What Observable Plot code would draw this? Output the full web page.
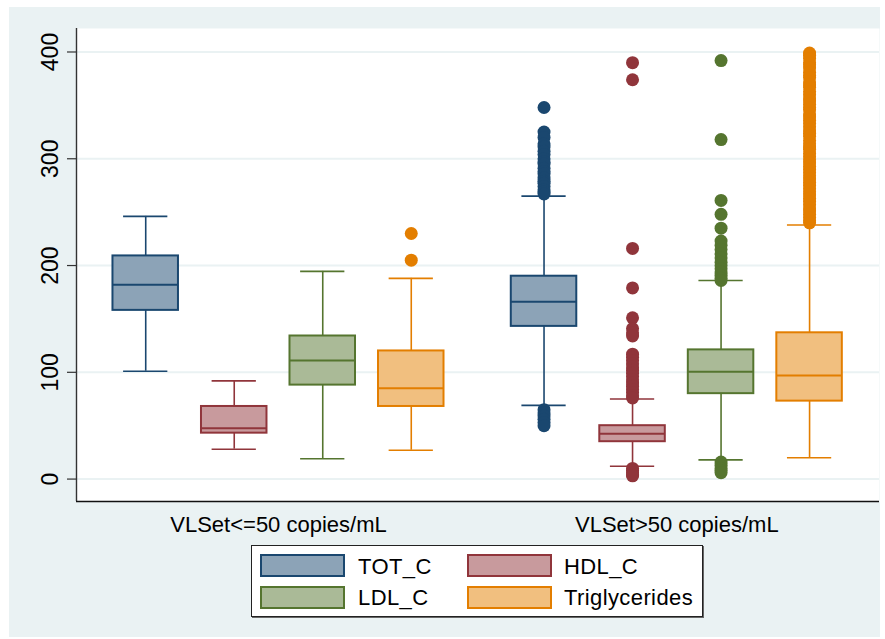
<!DOCTYPE html>
<html>
<head>
<meta charset="utf-8">
<script src="https://cdn.jsdelivr.net/npm/d3@7"></script>
<script src="https://cdn.jsdelivr.net/npm/@observablehq/plot@0.6"></script>
<style>
  body { margin: 0; background: #ffffff; font-family: "Liberation Sans", Arial, sans-serif; }
  #bg { position: absolute; left: 9px; top: 7px; width: 871px; height: 630px; background: #eaf2f3; }
  #chart { position: absolute; left: 0; top: 0; }
  #legend { position: absolute; left: 251px; top: 545px; width: 452px; height: 72px; box-sizing: border-box;
            background: #ffffff; border: 1px solid #222; box-shadow: 1px 1px 0 #666; }
  .sw { position: absolute; width: 85px; height: 23px; box-sizing: border-box; border: 2px solid; }
  .lb { position: absolute; font-size: 22px; line-height: 22px; letter-spacing: 0.4px; color: #000; white-space: nowrap; }
</style>
</head>
<body>
<div id="bg"></div>
<div id="chart"></div>
<div id="legend"></div>
<script>
// ---- data ----
const groups = ["VLSet<=50 copies/mL", "VLSet>50 copies/mL"];
const series = ["TOT_C", "HDL_C", "LDL_C", "Triglycerides"];
// per group, in series order
const lowerWhisker = [[101, 28, 19, 27], [69, 12, 18, 20]];
const q1 =           [[158, 43, 88, 68], [143, 35, 80, 73]];
const median =       [[182, 47.5, 111, 85], [166, 42.5, 100.5, 97]];
const q3 =           [[209, 68, 134, 120], [190, 50, 121, 137]];
const upperWhisker = [[246, 92, 194.5, 188], [265, 75, 186, 238]];
// outside values, per group
const outTOT = [[], [348, 325, 320, 314, 311, 307, 304, 300, 297, 295, 291, 288, 286, 282, 279, 277, 274, 271, 269, 267,
                     65, 62, 59, 56, 53, 50]];
const outHDL = [[], [390, 374, 216, 179, 151, 141, 137, 134, 117, 114, 111, 108, 105, 102, 99, 96, 93, 90, 87, 84, 81, 78, 76,
                     10, 8, 6, 4, 3]];
const outLDL = [[], [392, 318, 261, 248, 235, 223, 219, 215, 211, 207, 203, 200, 197, 194, 191, 188, 186,
                     16, 13, 10, 8, 6]];
const outTRI = [[230, 205], [399, 397, 394, 390, 388, 385, 381, 378, 376, 372, 369, 367, 363, 360, 357, 354, 351, 348, 346,
                     342, 339, 336, 333, 330, 327, 324, 321, 317, 314, 311, 309, 305, 302, 299, 296, 293, 290, 287, 284,
                     281, 278, 275, 272, 269, 266, 263, 260, 257, 254, 251, 248, 245, 242, 240]];
const yTicks = [0, 100, 200, 300, 400];
const lineColors = ["#1a476f", "#90353b", "#55752f", "#e37e00"];
const fillColors = ["#8ca3b7", "#c89a9d", "#aaba97", "#f1bf7f"];

// ---- build tables ----
const groupGap = 4.5;        // slot offset of second group
const halfBox = 0.37, halfCap = 0.25;
const boxes = groups.flatMap((g, gi) => series.map((s, si) => ({
  group: g, series: s, pos: si + groupGap * gi,
  lo: lowerWhisker[gi][si], q1: q1[gi][si], med: median[gi][si], q3: q3[gi][si], hi: upperWhisker[gi][si],
  line: lineColors[si], fill: fillColors[si]
})));
const outs = [outTOT, outHDL, outLDL, outTRI];
const dots = groups.flatMap((g, gi) => series.flatMap((s, si) =>
  outs[si][gi].map(v => ({pos: si + groupGap * gi, value: v, line: lineColors[si]}))));
const groupCenters = groups.map((g, gi) => 1.5 + groupGap * gi);

const xDomain = [-0.782, 8.29];
const yDomain = [-21, 422];

const plot = Plot.plot({
  width: 885, height: 540,
  marginLeft: 76, marginRight: 6, marginTop: 28, marginBottom: 39,
  style: {background: "transparent", fontFamily: "'Liberation Sans', Arial, sans-serif", color: "#000"},
  x: {type: "linear", domain: xDomain, axis: null, label: null},
  y: {domain: yDomain, axis: null, label: null},
  color: {type: "identity"},
  marks: [
    Plot.frame({fill: "#ffffff", stroke: "none"}),
    Plot.gridY(yTicks, {stroke: "#eaf2f3", strokeOpacity: 1, strokeWidth: 2}),
    // whiskers
    Plot.ruleX(boxes, {x: "pos", y1: "q3", y2: "hi", stroke: "line", strokeWidth: 1.6}),
    Plot.ruleX(boxes, {x: "pos", y1: "lo", y2: "q1", stroke: "line", strokeWidth: 1.6}),
    Plot.ruleY(boxes, {y: "hi", x1: d => d.pos - halfCap, x2: d => d.pos + halfCap, stroke: "line", strokeWidth: 1.6}),
    Plot.ruleY(boxes, {y: "lo", x1: d => d.pos - halfCap, x2: d => d.pos + halfCap, stroke: "line", strokeWidth: 1.6}),
    // boxes
    Plot.rect(boxes, {x1: d => d.pos - halfBox, x2: d => d.pos + halfBox, y1: "q1", y2: "q3",
                      fill: "fill", stroke: "line", strokeWidth: 2}),
    Plot.ruleY(boxes, {y: "med", x1: d => d.pos - halfBox, x2: d => d.pos + halfBox, stroke: "line", strokeWidth: 2}),
    // outside values
    Plot.dot(dots, {x: "pos", y: "value", r: 6.5, fill: "line", stroke: "none"}),
    // axes
    Plot.ruleX([xDomain[0]], {stroke: "#333", strokeWidth: 1.4}),
    Plot.ruleY([yDomain[0]], {stroke: "#111", strokeWidth: 1.4}),
    Plot.axisY({ticks: yTicks, tickSize: 9, tickPadding: 10, tickRotate: -90, textAnchor: "middle",
                lineAnchor: "bottom", fontSize: 23, letterSpacing: "0.5px", stroke: "#333", strokeWidth: 1.2, label: null}),
    Plot.axisX({ticks: groupCenters, tickFormat: (d, i) => groups[i], tickSize: 0, tickPadding: 15,
                fontSize: 22, letterSpacing: "0.4px", label: null})
  ]
});
document.getElementById("chart").appendChild(plot);

// legend
const legend = document.getElementById("legend");
series.forEach((s, i) => {
  const col = i % 2, row = Math.floor(i / 2);
  const sw = document.createElement("div");
  sw.className = "sw";
  sw.style.left = (8 + col * 207) + "px";
  sw.style.top = (8 + row * 32) + "px";
  sw.style.background = fillColors[i];
  sw.style.borderColor = lineColors[i];
  legend.appendChild(sw);
  const lb = document.createElement("div");
  lb.className = "lb";
  lb.style.left = (106 + col * 206) + "px";
  lb.style.top = (10 + row * 31) + "px";
  lb.textContent = s;
  legend.appendChild(lb);
});
</script>
</body>
</html>
